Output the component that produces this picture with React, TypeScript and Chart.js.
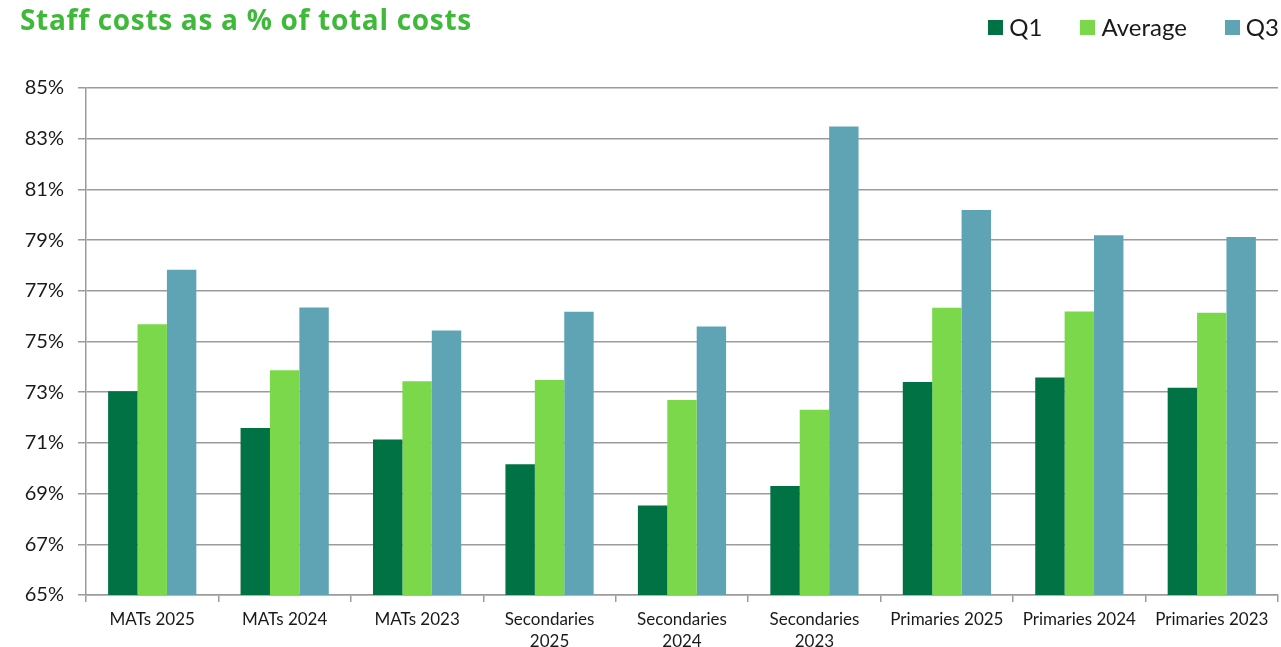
import React, { useEffect, useRef } from "react";
import { Chart, registerables } from "chart.js";

Chart.register(...registerables);

const categories: (string | string[])[] = [
  "MATs 2025",
  "MATs 2024",
  "MATs 2023",
  ["Secondaries", "2025"],
  ["Secondaries", "2024"],
  ["Secondaries", "2023"],
  "Primaries 2025",
  "Primaries 2024",
  "Primaries 2023",
];

const q1Values = [73.04, 71.59, 71.13, 70.16, 68.53, 69.3, 73.4, 73.58, 73.18];
const averageValues = [75.68, 73.87, 73.43, 73.48, 72.69, 72.31, 76.33, 76.18, 76.13];
const q3Values = [77.83, 76.34, 75.43, 76.17, 75.59, 83.48, 80.19, 79.19, 79.12];

const seriesNames = ["Q1", "Average", "Q3"];
const seriesColors = ["#007243", "#7AD84A", "#5EA4B5"];

const yMin = 65;
const yMax = 85;
const yStep = 2;

const FONT = "Lato, 'Open Sans', sans-serif";

export default function App() {
  const canvasRef = useRef<HTMLCanvasElement | null>(null);

  useEffect(() => {
    document.body.style.margin = "0";
    const canvas = canvasRef.current;
    if (!canvas) return;
    const chart = new Chart(canvas, {
      type: "bar",
      data: {
        labels: categories,
        datasets: [q1Values, averageValues, q3Values].map((vals, i) => ({
          label: seriesNames[i],
          data: vals,
          backgroundColor: seriesColors[i],
          borderWidth: 0,
          barPercentage: 1,
          categoryPercentage: 0.666,
        })),
      },
      options: {
        responsive: false,
        animation: false,
        maintainAspectRatio: false,
        layout: { padding: { left: 18, right: 3, top: 88, bottom: 0 } },
        plugins: {
          title: { display: false },
          tooltip: { enabled: false },
          legend: { display: false },
        },
        scales: {
          x: {
            afterFit: (scale: any) => {
              scale.height = 52;
            },
            grid: {
              display: true,
              drawOnChartArea: false,
              drawTicks: true,
              tickLength: 7,
              offset: true,
              color: "#9b9b9b",
              lineWidth: 1.5,
            },
            border: { color: "#9b9b9b", width: 1.5 },
            ticks: {
              color: "#1a1a1a",
              font: { family: FONT, size: 17, lineHeight: 1.3 },
              maxRotation: 0,
              autoSkip: false,
              padding: 6,
            },
          },
          y: {
            min: yMin,
            max: yMax,
            afterFit: (scale: any) => {
              scale.width = 68;
            },
            grid: {
              color: "#9b9b9b",
              lineWidth: 1.5,
              drawTicks: true,
              tickLength: 8,
            },
            border: { color: "#9b9b9b", width: 1.5 },
            ticks: {
              stepSize: yStep,
              color: "#1a1a1a",
              font: { family: FONT, size: 20 },
              padding: 14,
              callback: (v: any) => `${v}%`,
            },
          },
        },
      },
    });
    return () => chart.destroy();
  }, []);

  const legendItem = (name: string, color: string, gapAfter: number) => (
    <div key={name} style={{ display: "flex", alignItems: "center", marginRight: gapAfter }}>
      <span style={{ display: "inline-block", width: 15, height: 15, background: color, marginRight: 6 }} />
      <span>{name}</span>
    </div>
  );

  return (
    <div style={{ position: "fixed", left: 0, top: 0, width: 1281, height: 647, background: "#fff", overflow: "hidden" }}>
      <canvas ref={canvasRef} width={1281} height={647} style={{ position: "absolute", left: 0, top: 0 }} />
      <div
        style={{
          position: "absolute",
          left: 20,
          top: 5,
          fontFamily: "'Open Sans', sans-serif",
          fontWeight: 700,
          fontSize: 28,
          lineHeight: "28px",
          letterSpacing: "0.7px",
          color: "#3FB93A",
          whiteSpace: "nowrap",
        }}
      >
        Staff costs as a % of total costs
      </div>
      <div
        style={{
          position: "absolute",
          right: 2,
          top: 13,
          display: "flex",
          alignItems: "center",
          fontFamily: FONT,
          fontSize: 24,
          lineHeight: "28px",
          color: "#1a1a1a",
          whiteSpace: "nowrap",
        }}
      >
        {seriesNames.map((n, i) => legendItem(n, seriesColors[i], i < seriesNames.length - 1 ? 38 : 0))}
      </div>
    </div>
  );
}
